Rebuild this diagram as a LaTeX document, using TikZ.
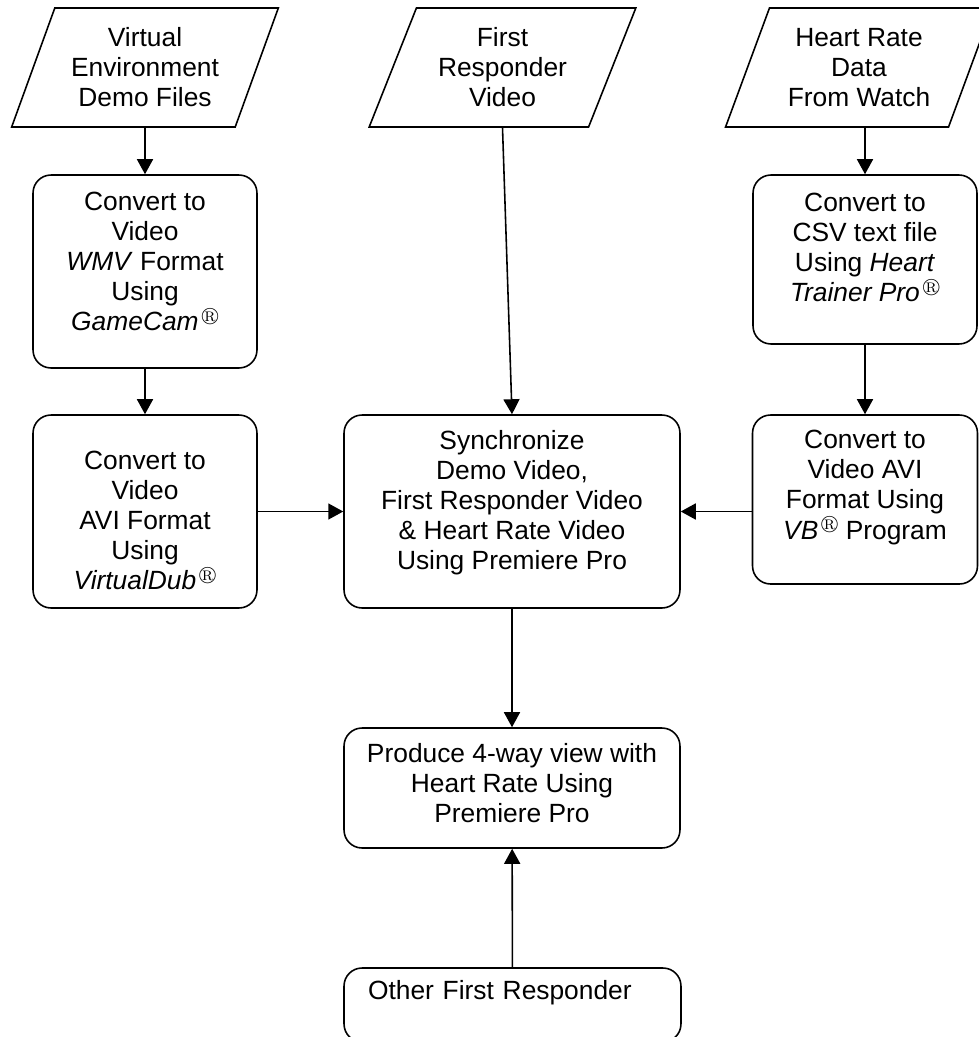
\documentclass[tikz,border=0pt]{standalone}
\usepackage{fontspec}
\setmainfont{Liberation Sans}
\usepackage{amssymb}
\usepackage{graphicx}
\usetikzlibrary{arrows.meta,shapes.geometric}
\newcommand{\reg}{\kern0.1em\raisebox{0.36em}{\scalebox{0.7}{$\circledR$}}}

\begin{document}
\begin{tikzpicture}[x=0.02cm,y=-0.02cm,line width=0.9pt,->,>={Triangle[length=0.3cm,width=0.32cm]},font=\fontsize{15}{17.1}\selectfont]
    \tikzstyle{proc}=[draw,rounded corners=0.36cm,align=center,inner sep=0pt,minimum width=4.48cm,minimum height=3.86cm]
    \tikzstyle{io}=[draw,trapezium,trapezium left angle=66,trapezium right angle=114,trapezium stretches=true,align=center,inner sep=0pt,minimum width=5.34cm,minimum height=2.38cm]

    \useasboundingbox (0,0) rectangle (979,1037);

    \node[io](venv) at (145,67.5){Virtual\\Environment\\Demo Files};
    \node[io](frvid) at (502.5,67.5){First\\Responder\\Video};
    \node[io](hrdata) at (859,67.5){Heart Rate\\Data\\From Watch};

    \node[proc,text depth=0.4cm](gamecam) at (145,271.5){Convert to\\Video\\\textit{WMV} Format\\Using\\\textit{GameCam}\reg};
    \node[proc,text height=3.13cm](vdub) at (145,511.5){Convert to\\Video\\AVI Format\\Using\\\textit{VirtualDub}\reg};
    \node[proc,minimum width=6.72cm,text depth=0.47cm](sync) at (512,511.5){Synchronize\\Demo Video,\\First Responder Video\\\& Heart Rate Video\\Using Premiere Pro};
    \node[proc,minimum height=3.38cm,text depth=0.48cm](csv) at (865,259.5){Convert to\\CSV text file\\Using \textit{Heart}\\\textit{Trainer Pro}\reg};
    \node[proc,minimum width=4.5cm,minimum height=3.38cm,text depth=0.59cm](vb) at (865,499.5){Convert to\\Video AVI\\Format Using\\\textit{VB}\reg{} Program};
    \node[proc,minimum width=6.72cm,minimum height=2.4cm,text depth=0.2cm](fourway) at (512,788){Produce 4-way view with\\Heart Rate Using\\Premiere Pro};
    \node[proc,minimum width=6.74cm,minimum height=1.48cm,text depth=0.6cm,text width=5.78cm,align=left](other) at (512.5,1005){Other First Responder};

    \draw (venv) -- (gamecam);
    \draw (gamecam) -- (vdub);
    \draw (vdub) -- (sync);
    \draw (frvid.south) -- (sync.north);
    \draw (csv.north |- hrdata.south) -- (csv.north);
    \draw (csv) -- (vb);
    \draw (vb.west |- sync.east) -- (sync.east);
    \draw (sync) -- (fourway);
    \draw (other) -- (fourway);
  \end{tikzpicture}
\end{document}
